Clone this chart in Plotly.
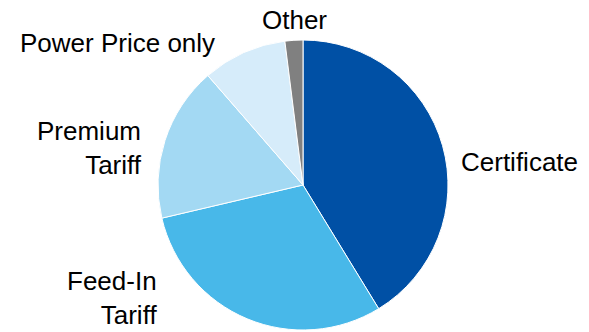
import plotly.graph_objects as go

labels = ["Certificate", "Feed-In Tariff", "Premium Tariff", "Power Price only", "Other"]
label_text = ["Certificate", "Feed-In<br>Tariff", "Premium<br>Tariff", "Power Price only", "Other"]
values = [41.3, 30.1, 17.3, 9.4, 2.0]
colors = ["#0050A5", "#48B8E9", "#A3D9F3", "#D6ECFA", "#808080"]

W, H = 589, 332
fig = go.Figure(go.Pie(
    labels=labels, values=values, sort=False, direction="clockwise", rotation=0,
    marker=dict(colors=colors, line=dict(color="white", width=1)),
    textinfo="none", hoverinfo="label+percent", showlegend=False,
    domain=dict(x=[157.5 / W, 448.5 / W], y=[2 / H, 292 / H]),
))

# label placement (pixel positions converted to paper coords)
ann_pos = [
    (459, 162, "left", "left"),
    (159, 297.5, "right", "right"),
    (144, 147.7, "right", "right"),
    (217, 43, "right", "right"),
    (294.5, 20.5, "center", "center"),
]
for txt, (px, py, xa, al) in zip(label_text, ann_pos):
    fig.add_annotation(
        x=px / W, y=(H - py) / H, xref="paper", yref="paper",
        text=txt, showarrow=False, xanchor=xa, yanchor="middle", align=al,
        font=dict(family="Liberation Sans, Arial, sans-serif", size=26, color="#000000"),
    )

fig.update_layout(
    width=W, height=H, margin=dict(l=0, r=0, t=0, b=0),
    paper_bgcolor="white", plot_bgcolor="white",
)
fig.write_html("out.html")
